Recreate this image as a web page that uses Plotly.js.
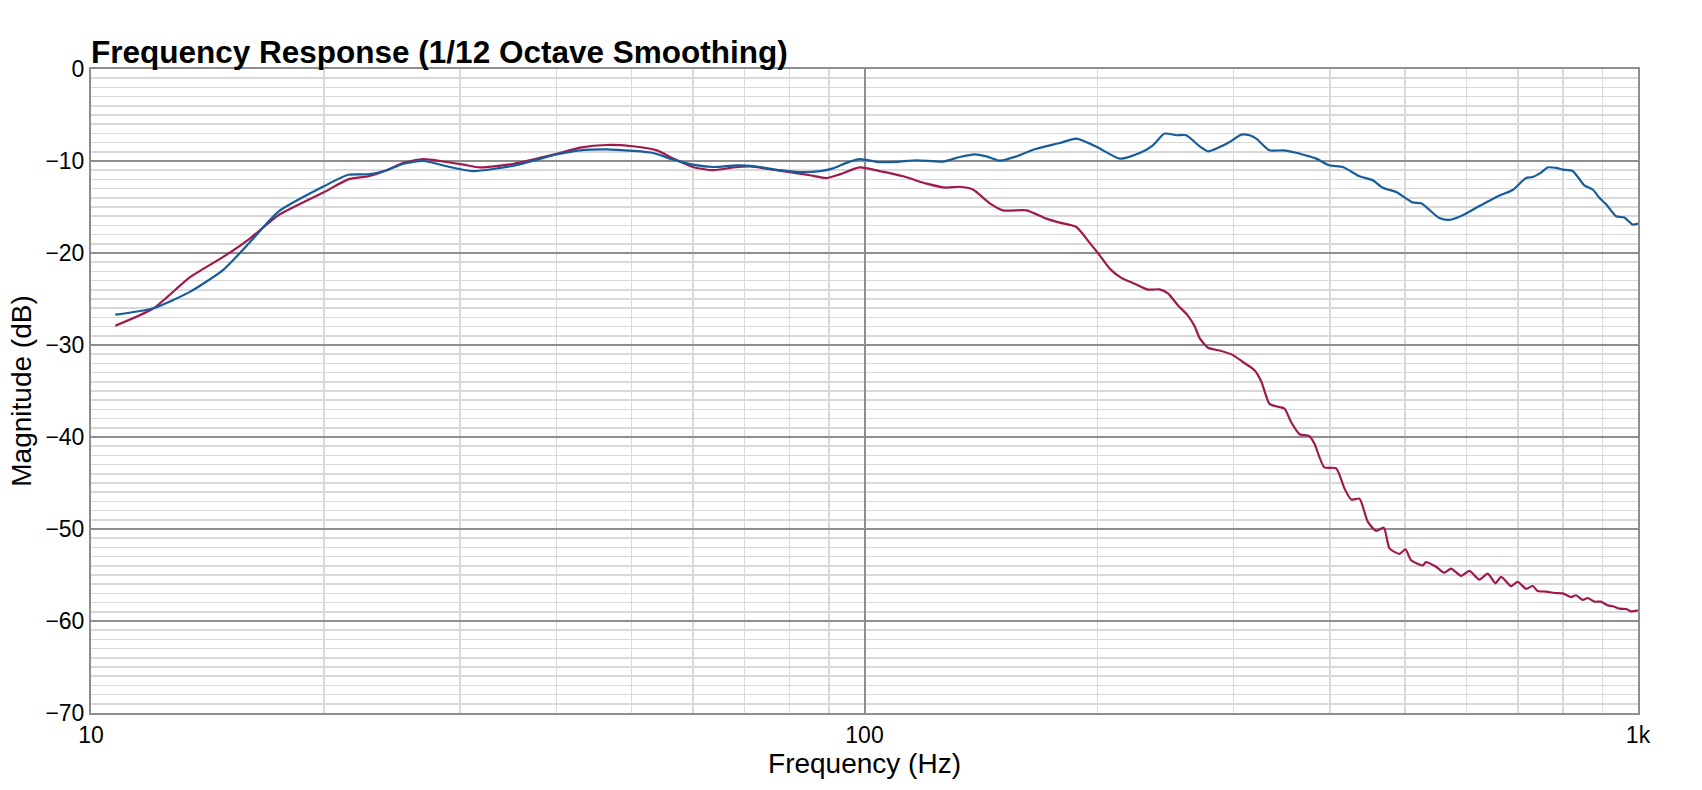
<!DOCTYPE html>
<html>
<head>
<meta charset="utf-8">
<script src="https://cdn.plot.ly/plotly-3.0.1.min.js"></script>
<style>
  html, body { margin: 0; padding: 0; background: #fff; }
  #chart { width: 1702px; height: 790px; }
</style>
</head>
<body>
<div id="chart"></div>
<script>
// frequencies (Hz) and magnitudes (dB)
var blueFreq = [10.75, 12.05, 13.44, 14.84, 16.06, 17.47, 20.0, 21.51, 22.84, 24.12,
  25.35, 26.9, 29.1, 31.2, 35.2, 40.1, 42.9, 46.4, 50.2, 53.3,
  56.6, 60.0, 63.7, 68.3, 71.8, 77.7, 82.5, 87.6, 91.1, 94.8,
  98.6, 104.6, 110, 116.8, 126.4, 132.8, 138.8, 143.8, 149.6, 157.2,
  165.2, 178.8, 187.9, 199.8, 213.8, 226.8, 236, 244.3, 253, 260.6,
  271.2, 278, 287.8, 296.6, 307, 314.7, 321, 333.9, 347.4, 361.4,
  376, 383.7, 399, 415.3, 436.4, 454.1, 467.8, 486.8, 511.4, 524.4,
  553.6, 570.4, 593.4, 623.7, 662.2, 688.6, 716.5, 730.9, 749.2, 764.2,
  783.6, 799, 823.2, 852.3, 873.7, 891.3, 909.3, 936.8, 960.2, 984, 1000];
var blueDb = [-26.7, -26.0, -24.2, -21.8, -18.8, -15.5, -12.75, -11.5, -11.45, -11.0,
  -10.3, -10.0, -10.65, -11.1, -10.5, -9.27, -8.84, -8.73, -8.9, -9.13,
  -9.85, -10.4, -10.65, -10.47, -10.54, -11.0, -11.2, -11.1, -10.8, -10.2,
  -9.8, -10.12, -10.1, -9.92, -10.07, -9.56, -9.27, -9.5, -9.96, -9.5,
  -8.77, -8.04, -7.57, -8.48, -9.74, -9.13, -8.29, -7.02, -7.2, -7.2,
  -8.4, -8.95, -8.48, -7.93, -7.13, -7.2, -7.57, -8.84, -8.84, -9.1,
  -9.5, -9.74, -10.47, -10.65, -11.66, -12.1, -12.9, -13.37, -14.5, -14.6,
  -16.2, -16.4, -15.9, -14.9, -13.75, -13.15, -11.85, -11.74, -11.26, -10.7,
  -10.75, -10.93, -11.08, -12.64, -13.1, -14.0, -14.7, -16.0, -16.15, -16.9, -16.8];

var redFreq = [10.75, 12.05, 13.44, 14.84, 16.06, 17.47, 20.0, 21.51, 22.84, 24.12,
  25.35, 26.9, 28.27, 30.3, 31.85, 35.2, 40.1, 42.9, 46.4, 50.2,
  53.9, 56.6, 60.0, 63.7, 67.7, 71.1, 75.4, 80.0, 85.0, 89.3,
  92.9, 98.6, 104.6, 112.2, 120.3, 127.6, 132.8, 138.1, 145.2, 151,
  162, 171.8, 178.8, 187.9, 195.5, 201.4, 207.5, 214.8, 222.3, 232.5,
  240.7, 246.8, 254.3, 261.9, 267.3, 271.2, 278, 287.8, 299.5, 308.5,
  319.4, 325.9, 333.9, 342.2, 349.1, 356.2, 365.1, 376, 381.6, 393.1,
  407.2, 417.4, 425.8, 436.4, 447.3, 458.6, 469.2, 477.2, 491.6, 500.5,
  508.9, 526.8, 532, 548.1, 561.9, 573.3, 590.6, 605.4, 623.7, 639.4,
  654.2, 665.3, 685.4, 699.1, 716.5, 730.9, 741.9, 760.6, 779.8, 799,
  819.2, 831.5, 848, 860.8, 878.2, 895.8, 913.8, 927.6, 946.1, 965.1, 979.5, 1000];
var redDb = [-27.9, -26.0, -22.6, -20.4, -18.4, -15.9, -13.4, -12.0, -11.66, -11.0,
  -10.2, -9.8, -10.0, -10.4, -10.7, -10.3, -9.2, -8.55, -8.26, -8.4,
  -8.84, -9.74, -10.65, -11.0, -10.7, -10.6, -10.9, -11.2, -11.55, -11.85,
  -11.45, -10.7, -11.1, -11.66, -12.46, -12.9, -12.8, -13.1, -14.6, -15.36,
  -15.36, -16.26, -16.7, -17.17, -18.9, -20.25, -21.7, -22.7, -23.26, -23.98,
  -23.95, -24.4, -25.7, -26.8, -28.0, -29.25, -30.3, -30.6, -31.1, -31.85,
  -32.75, -34.0, -36.4, -36.7, -36.9, -38.4, -39.7, -39.9, -40.7, -43.3,
  -43.4, -45.6, -46.8, -46.7, -49.2, -50.2, -49.85, -52.1, -52.7, -52.2,
  -53.4, -53.95, -53.6, -54.1, -54.75, -54.3, -55.1, -54.55, -55.5, -54.85,
  -55.9, -55.2, -56.2, -55.75, -56.5, -56.2, -56.75, -56.8, -56.96, -57.0,
  -57.4, -57.2, -57.7, -57.5, -57.9, -57.9, -58.3, -58.4, -58.65, -58.7, -58.95, -58.85];

// x grid: every 1-2-3...9 step, labels only on decades
var xGrid = [10, 20, 30, 40, 50, 60, 70, 80, 90, 100, 200, 300, 400, 500, 600, 700, 800, 900, 1000];
var xGridText = ['10', '', '', '', '', '', '', '', '', '100', '', '', '', '', '', '', '', '', '1k'];
var xDecades = [10, 100, 1000];
var yTicks = [-70, -60, -50, -40, -30, -20, -10, 0];

var font = 'Liberation Sans, Arial, Helvetica, sans-serif';

var red = {
  x: redFreq, y: redDb, type: 'scatter', mode: 'lines',
  line: {color: '#9e1a4e', width: 2.2, shape: 'spline', smoothing: 0.6}
};
var blue = {
  x: blueFreq, y: blueDb, type: 'scatter', mode: 'lines',
  line: {color: '#175d9c', width: 2.2, shape: 'spline', smoothing: 0.6}
};
// empty trace only to hold the overlay axis that draws the decade grid lines
var decadeHolder = {x: [], y: [], xaxis: 'x2', type: 'scatter', mode: 'lines', showlegend: false};

var layout = {
  width: 1702, height: 790,
  margin: {l: 91, r: 64, t: 69, b: 77},
  paper_bgcolor: '#fff', plot_bgcolor: '#fff',
  showlegend: false,
  font: {family: font, color: '#000'},
  title: {
    text: '<b>Frequency Response (1/12 Octave Smoothing)</b>',
    font: {family: font, size: 31.5, color: '#000'},
    x: 0, xref: 'paper', xanchor: 'left',
    y: 1, yref: 'paper', yanchor: 'bottom',
    pad: {b: 6}
  },
  xaxis: {
    type: 'log', range: [1, 3],
    tickmode: 'array', tickvals: xGrid, ticktext: xGridText,
    tickfont: {size: 23}, ticks: '',
    showgrid: true, gridcolor: '#d9d9d9', gridwidth: 1.6,
    showline: true, linecolor: '#8e8e8e', linewidth: 2, mirror: true,
    zeroline: false,
    title: {text: 'Frequency (Hz)', font: {size: 28}, standoff: 0}
  },
  xaxis2: {
    type: 'log', range: [1, 3], overlaying: 'x',
    tickmode: 'array', tickvals: xDecades, showticklabels: false, ticks: '',
    showgrid: true, gridcolor: '#8e8e8e', gridwidth: 2,
    showline: false, zeroline: false
  },
  yaxis: {
    range: [-70, 0],
    tickmode: 'array', tickvals: yTicks,
    tickfont: {size: 23}, ticks: '',
    showgrid: true, gridcolor: '#8e8e8e', gridwidth: 2,
    minor: {dtick: 1, showgrid: true, gridcolor: '#d9d9d9', gridwidth: 1.6, ticks: ''},
    showline: true, linecolor: '#8e8e8e', linewidth: 2, mirror: true,
    zeroline: false,
    title: {text: 'Magnitude (dB)', font: {size: 28}, standoff: 6}
  }
};

Plotly.newPlot('chart', [decadeHolder, red, blue], layout, {displayModeBar: false, staticPlot: true});
</script>
</body>
</html>
